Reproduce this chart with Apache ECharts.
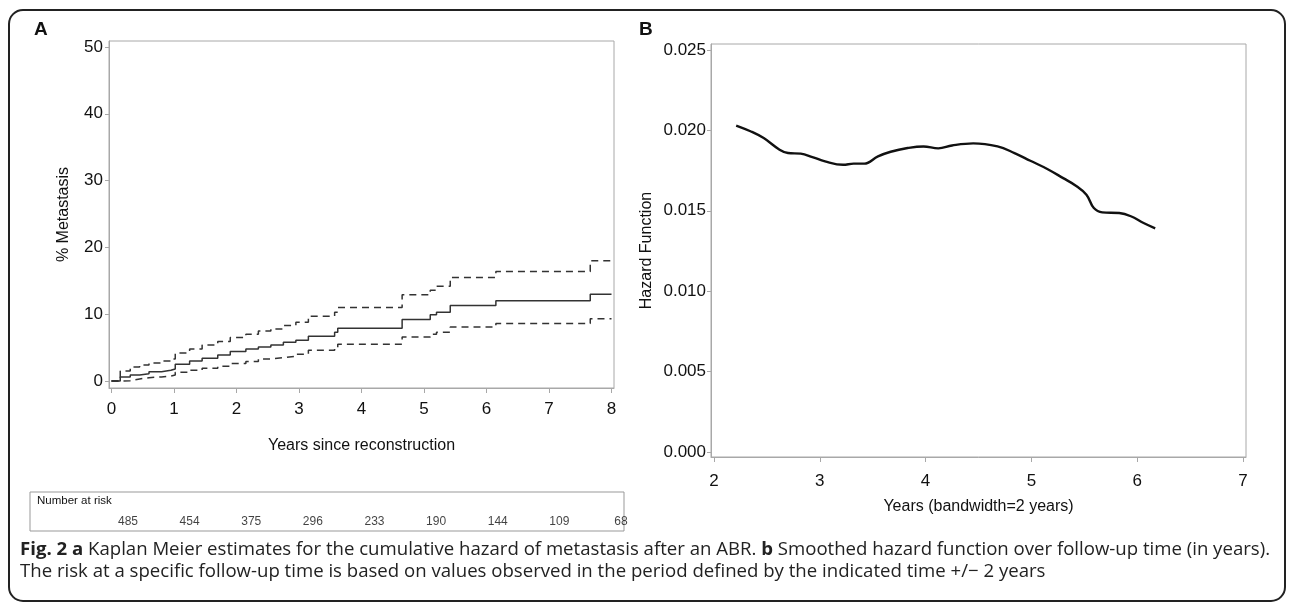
<!DOCTYPE html>
<html>
<head>
<meta charset="utf-8">
<title>Fig. 2</title>
<script src="https://cdn.jsdelivr.net/npm/echarts/dist/echarts.min.js"></script>
<style>
html, body { margin: 0; padding: 0; background: #fff; }
#chart { width: 1292px; height: 605px; }
</style>
</head>
<body>
<div id="chart"></div>
<script>
// panel A: cumulative hazard of metastasis (%), step estimate with confidence band
const kmTime  = [0, 0.14, 0.3, 0.45, 0.6, 0.8, 0.95, 1.02, 1.25, 1.45, 1.7, 1.9, 2.15, 2.35, 2.55, 2.75, 2.95, 3.15, 3.57, 3.62, 4.65, 5.1, 5.2, 5.42, 6.15, 7.66, 8.0];
const kmEst   = [0, 0.6, 0.9, 1.1, 1.4, 1.6, 1.8, 2.5, 3.0, 3.4, 3.9, 4.4, 4.8, 5.1, 5.4, 5.8, 6.1, 6.7, 7.3, 7.9, 9.2, 9.9, 10.3, 11.3, 12.0, 13.0, 13.0];
const kmUpper = [0, 1.5, 2.1, 2.4, 2.7, 3.0, 3.3, 4.2, 4.8, 5.4, 5.9, 6.5, 7.0, 7.5, 7.8, 8.3, 8.8, 9.7, 10.3, 11.0, 12.9, 13.6, 14.2, 15.5, 16.4, 18.0, 18.0];
const kmLower = [0, 0.05, 0.3, 0.5, 0.6, 0.75, 0.9, 1.3, 1.6, 1.9, 2.2, 2.6, 2.9, 3.3, 3.5, 3.7, 4.0, 4.6, 5.0, 5.5, 6.6, 7.0, 7.3, 8.1, 8.6, 9.3, 9.3];
const kmXTicks = [0, 1, 2, 3, 4, 5, 6, 7, 8];
const kmYTicks = [0, 10, 20, 30, 40, 50];

// number at risk table
const riskTime  = [0, 1, 2, 3, 4, 5, 6, 7, 8];
const riskCount = [485, 454, 375, 296, 233, 190, 144, 109, 68];

// panel B: smoothed hazard function
const hzYears  = [2.21, 2.35, 2.47, 2.62, 2.70, 2.82, 2.93, 3.05, 3.22, 3.32, 3.42, 3.55, 3.67, 3.83, 3.98, 4.12, 4.25, 4.45, 4.68, 4.84, 4.99, 5.15, 5.30, 5.42, 5.52, 5.59, 5.67, 5.83, 5.94, 6.06, 6.17];
const hzValues = [0.0203, 0.01993, 0.01952, 0.0188, 0.01859, 0.01855, 0.01834, 0.01807, 0.01786, 0.01793, 0.01793, 0.01838, 0.01867, 0.0189, 0.019, 0.01888, 0.01906, 0.01919, 0.019, 0.01859, 0.01811, 0.0176, 0.01703, 0.01656, 0.016, 0.01517, 0.0149, 0.01486, 0.01466, 0.01424, 0.01391];
const hzXTicks = [2, 3, 4, 5, 6, 7];
const hzYTicks = [0, 0.005, 0.010, 0.015, 0.020, 0.025];

const sans = "'Liberation Sans', Arial, sans-serif";
const captionFont = "'Open Sans', 'Noto Sans', sans-serif";
const frame = '#a8a8a8';
const ink = '#222';

function pairs(xs, ys) {
    return xs.map((x, i) => [x, ys[i]]);
}

function valueAxis(extra) {
    return Object.assign({
        type: 'value',
        axisLine: { show: true, onZero: false, lineStyle: { color: frame, width: 1 } },
        splitLine: { show: false }
    }, extra);
}

const chart = echarts.init(document.getElementById('chart'));

const option = {
    animation: false,
    backgroundColor: '#fff',
    grid: [
        { left: 109, top: 41, width: 505, height: 347, show: true, borderColor: frame, borderWidth: 1 },
        { left: 711, top: 44, width: 535, height: 413, show: true, borderColor: frame, borderWidth: 1 },
        { left: 128, top: 514, width: 493, height: 16 }
    ],
    xAxis: [
        valueAxis({
            gridIndex: 0, min: -0.04, max: 8.04,
            axisTick: { show: true, length: 5, lineStyle: { color: frame }, customValues: kmXTicks },
            axisLabel: { color: '#111', fontFamily: sans, fontSize: 17, margin: 13, customValues: kmXTicks },
            name: 'Years since reconstruction', nameLocation: 'middle', nameGap: 50,
            nameTextStyle: { color: '#111', fontFamily: sans, fontSize: 16 }
        }),
        valueAxis({
            gridIndex: 1, min: 1.972, max: 7.028,
            axisTick: { show: true, length: 5, lineStyle: { color: frame }, customValues: hzXTicks },
            axisLabel: { color: '#111', fontFamily: sans, fontSize: 17, margin: 16, customValues: hzXTicks },
            name: 'Years (bandwidth=2 years)', nameLocation: 'middle', nameGap: 42,
            nameTextStyle: { color: '#111', fontFamily: sans, fontSize: 16 }
        }),
        { type: 'value', gridIndex: 2, min: 0, max: 8, show: false }
    ],
    yAxis: [
        valueAxis({
            gridIndex: 0, min: -1.05, max: 50.9,
            axisTick: { show: true, length: 4, lineStyle: { color: frame }, customValues: kmYTicks },
            axisLabel: { color: '#111', fontFamily: sans, fontSize: 17, margin: 6, customValues: kmYTicks },
            name: '% Metastasis', nameLocation: 'middle', nameGap: 37,
            nameTextStyle: { color: '#111', fontFamily: sans, fontSize: 16 }
        }),
        valueAxis({
            gridIndex: 1, min: -0.00031, max: 0.02537,
            axisTick: { show: true, length: 4, lineStyle: { color: frame }, customValues: hzYTicks },
            axisLabel: {
                color: '#111', fontFamily: sans, fontSize: 17, margin: 5, customValues: hzYTicks,
                formatter: v => v.toFixed(3)
            },
            name: 'Hazard Function', nameLocation: 'middle', nameGap: 56,
            nameTextStyle: { color: '#111', fontFamily: sans, fontSize: 16 }
        }),
        { type: 'value', gridIndex: 2, min: 0, max: 1, show: false }
    ],
    series: [
        {
            name: 'estimate', type: 'line', xAxisIndex: 0, yAxisIndex: 0, step: 'end',
            symbol: 'none', data: pairs(kmTime, kmEst),
            lineStyle: { color: '#333', width: 1.5 }
        },
        {
            name: 'upper', type: 'line', xAxisIndex: 0, yAxisIndex: 0, step: 'end',
            symbol: 'none', data: pairs(kmTime, kmUpper),
            lineStyle: { color: '#333', width: 1.5, type: [7, 5] }
        },
        {
            name: 'lower', type: 'line', xAxisIndex: 0, yAxisIndex: 0, step: 'end',
            symbol: 'none', data: pairs(kmTime, kmLower),
            lineStyle: { color: '#333', width: 1.5, type: [7, 5] }
        },
        {
            name: 'hazard', type: 'line', xAxisIndex: 1, yAxisIndex: 1, smooth: 0.4,
            symbol: 'none', data: pairs(hzYears, hzValues),
            lineStyle: { color: '#111', width: 2.4 }
        },
        {
            name: 'at risk', type: 'scatter', xAxisIndex: 2, yAxisIndex: 2,
            symbolSize: 0, silent: true,
            data: riskTime.map((t, i) => [t, 0.5, riskCount[i]]),
            label: {
                show: true, position: 'inside', formatter: p => p.data[2],
                color: '#111', fontFamily: sans, fontSize: 12
            }
        }
    ],
    graphic: [
        {
            type: 'rect', shape: { x: 9, y: 10, width: 1276, height: 591, r: 14 },
            style: { fill: 'none', stroke: ink, lineWidth: 2 }, silent: true
        },
        {
            type: 'text', left: 34, top: 20,
            style: { text: 'A', fontFamily: sans, fontWeight: 'bold', fontSize: 19, fill: '#111' }
        },
        {
            type: 'text', left: 639, top: 20,
            style: { text: 'B', fontFamily: sans, fontWeight: 'bold', fontSize: 19, fill: '#111' }
        },
        {
            type: 'rect', shape: { x: 30, y: 492, width: 594, height: 39 },
            style: { fill: 'none', stroke: '#999', lineWidth: 1 }, silent: true
        },
        {
            type: 'text', left: 37, top: 495,
            style: { text: 'Number at risk', fontFamily: sans, fontSize: 11.5, fill: '#111' }
        },
        {
            type: 'text',
            style: {
                x: 20, y: 550, verticalAlign: 'middle',
                text: '{b|Fig. 2 a} Kaplan Meier estimates for the cumulative hazard of metastasis after an ABR. {b|b} Smoothed hazard function over follow-up time (in years).',
                fontFamily: captionFont, fontSize: 18.6, fill: '#222',
                rich: { b: { fontFamily: captionFont, fontSize: 18.6, fontWeight: 'bold', fill: '#222' } }
            }
        },
        {
            type: 'text',
            style: {
                x: 20, y: 572, verticalAlign: 'middle',
                text: 'The risk at a specific follow-up time is based on values observed in the period defined by the indicated time +/\u2212 2 years',
                fontFamily: captionFont, fontSize: 18.6, fill: '#222'
            }
        }
    ]
};

chart.setOption(option);
</script>
</body>
</html>
